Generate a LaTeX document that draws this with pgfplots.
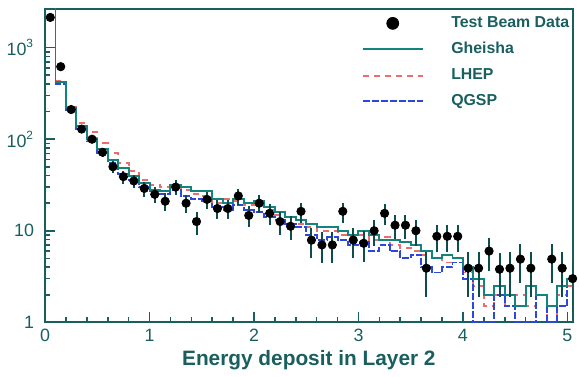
\documentclass[border=0pt]{standalone}
\usepackage{fontspec}
\setmainfont{Liberation Sans}
\usepackage{pgfplots}
\pgfplotsset{compat=1.18}
\usepackage{pgfplotstable}

\definecolor{gheisha}{RGB}{20,130,125}
\definecolor{lhep}{RGB}{235,110,110}
\definecolor{qgsp}{RGB}{45,70,220}
\definecolor{frame}{RGB}{25,95,95}

% test beam data: bin centre, entries, error
\pgfplotstableread{
x y e
0.05 2140 46
0.15 620 25
0.25 211 14.5
0.35 129 11.4
0.45 100 10
0.55 72 8.5
0.65 50 7.1
0.75 39 6.2
0.85 35 5.9
0.95 29 5.4
1.05 25 5
1.15 21 4.6
1.25 30 5.5
1.35 20 4.5
1.45 12.6 3.5
1.55 22 4.7
1.65 17.5 4.2
1.75 17.5 4.2
1.85 24 4.9
1.95 14.7 3.8
2.05 20 4.5
2.15 15.5 3.9
2.25 12.6 3.5
2.35 11.2 3.3
2.45 16.3 4.0
2.55 7.9 2.8
2.65 7.0 2.6
2.75 7.0 2.6
2.85 16.3 4.0
2.95 7.9 2.8
3.05 7.3 2.7
3.15 10 3.2
3.25 15.5 3.9
3.35 11.5 3.4
3.45 11.5 3.4
3.55 10 3.2
3.65 3.9 2.0
3.75 8.7 2.9
3.85 8.7 2.9
3.95 8.7 2.9
4.05 3.9 2.0
4.15 3.9 2.0
4.25 6.0 2.4
4.35 3.8 1.9
4.45 3.9 2.0
4.55 4.9 2.2
4.65 3.9 2.0
4.85 4.9 2.2
4.95 3.9 2.0
5.05 3.0 1.7
}\beamdata

% simulations: bin left edge, Gheisha, LHEP, QGSP
\pgfplotstableread{
x g l q
0.0 3000 3000 3000
0.1 420 430 400
0.2 220 225 210
0.3 140 150 130
0.4 100 120 95
0.5 78 90 70
0.6 60 70 55
0.7 48 55 42
0.8 40 45 36
0.9 33 36 30
1.0 28 32 27
1.1 27 30 25
1.2 32 30 28
1.3 30 28 24
1.4 27 25 22
1.5 27 24 21
1.6 22 20 18
1.7 20 22 17
1.8 22 21 19
1.9 20 19 17
2.0 21 19 16
2.1 18 17 14
2.2 16 15 13
2.3 14 14 12
2.4 13 12 11
2.5 12 11 9
2.6 11 10 8
2.7 11 10 8.5
2.8 10 9 8
2.9 9 8.5 7
3.0 10 9 7.5
3.1 9 8 6
3.2 8 8.5 7
3.3 8 7 6
3.4 7.5 6.5 5
3.5 7 6 5.5
3.6 6 5.5 4
3.7 5 5 3.5
3.8 5.5 4.5 4
3.9 5 5 4.5
4.0 4 3.5 3
4.1 3 2.5 1
4.2 2 1.5 1
4.3 2.5 2 2
4.4 2 1.5 1.5
4.5 1.5 2 1
4.6 2.5 1.5 1
4.7 2 2 2
4.8 1.5 1 1
4.9 2.5 2 1.5
5.0 3 2.5 3
5.1 3 2.5 3
}\mc

\begin{document}
\begin{tikzpicture}
\begin{axis}[
    scale only axis,
    width=266pt, height=158pt,
    xmin=0, xmax=5.05,
    ymode=log, ymin=1, ymax=2650,
    axis line style={frame, line width=0.9pt},
    tick style={frame, line width=0.8pt},
    tick align=inside, xtick pos=bottom, ytick pos=left,
    xtick={0,1,2,3,4,5}, xticklabels={0,1,2,3,4,5},
    minor x tick num=4,
    ytick={1,10,100,1000},
    yticklabels={1,10,10\textsuperscript{2},10\textsuperscript{3}},
    major tick length=5pt, minor tick length=2.5pt,
    ticklabel style={font=\fontsize{9}{10}\selectfont, text=frame},
    yticklabel style={xshift=-2pt},
    xlabel={Energy deposit in Layer 2},
    xlabel style={at={(axis description cs:0.5,0)}, anchor=center, yshift=-19pt,
        font=\bfseries\fontsize{10.5}{12}\selectfont, text=frame},
    legend style={at={(axis description cs:0.60,0.99)}, anchor=north west,
        draw=none, fill=none, inner sep=0pt, row sep=2pt,
        font=\bfseries\fontsize{8}{9}\selectfont, text=frame,
        /tikz/every odd column/.append style={column sep=12pt}},
    legend cell align=left,
    legend image code/.code={\draw[#1] (0pt,0pt) -- (30pt,0pt);},
]

\addlegendimage{legend image code/.code={\fill[black] (15pt,0pt) circle (3pt);}}
\addlegendentry{Test Beam Data}
\addlegendimage{gheisha, line width=1pt}
\addlegendentry{Gheisha}
\addlegendimage{lhep, line width=1pt, dash pattern=on 3pt off 2.5pt}
\addlegendentry{LHEP}
\addlegendimage{qgsp, line width=1pt, dash pattern=on 3.5pt off 1pt}
\addlegendentry{QGSP}

\addplot[forget plot, const plot, lhep, line width=1pt, dash pattern=on 3pt off 2.5pt] table[x=x, y=l] {\mc};
\addplot[forget plot, const plot, qgsp, line width=1pt, dash pattern=on 3.5pt off 1pt] table[x=x, y=q] {\mc};
\addplot[forget plot, const plot, gheisha, line width=1pt] table[x=x, y=g] {\mc};

\addplot[forget plot, only marks, mark=*, mark size=2.1pt, black,
    error bars/.cd, y dir=both, y explicit,
    error bar style={gheisha!60!black, line width=1pt}, error mark=none]
    table[x=x, y=y, y error=e] {\beamdata};

\end{axis}
\path (current axis.south west) ++(-21.5pt,-26pt) rectangle ++(289.5pt,188.5pt);
\end{tikzpicture}
\end{document}
